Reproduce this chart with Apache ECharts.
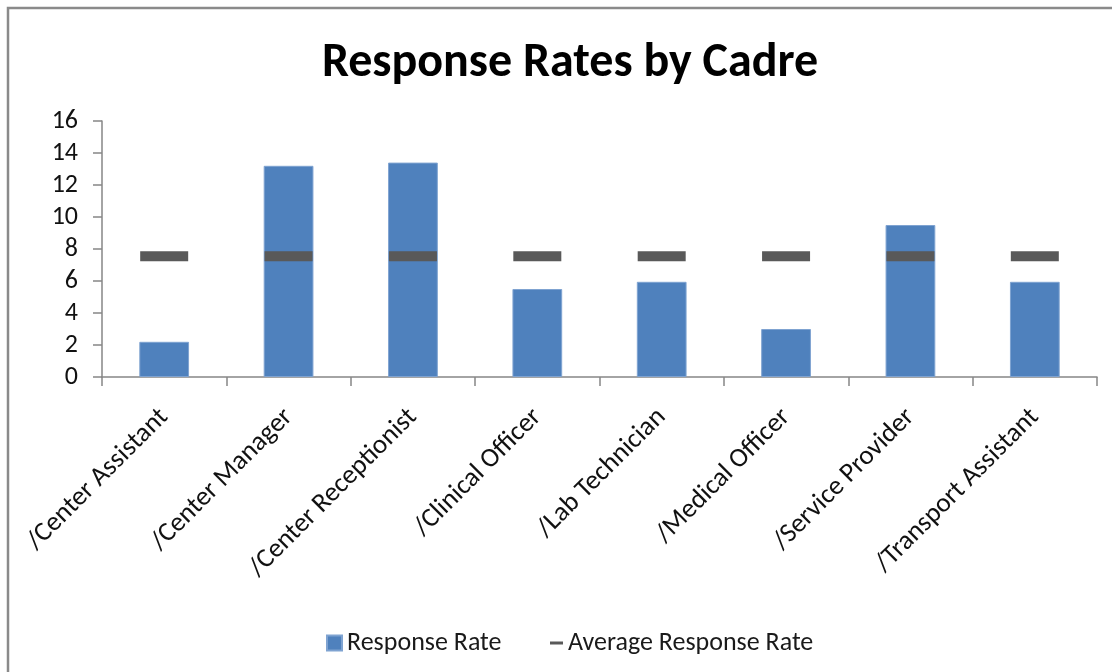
<!DOCTYPE html>
<html>
<head>
<meta charset="utf-8">
<script src="https://cdn.jsdelivr.net/npm/echarts@6/dist/echarts.min.js"></script>
<style>
html,body{margin:0;padding:0;background:#fff;}
#chart{width:1112px;height:672px;}
</style>
</head>
<body>
<div id="chart"></div>
<script>
const categories = ['/Center Assistant','/Center Manager','/Center Receptionist','/Clinical Officer','/Lab Technician','/Medical Officer','/Service Provider','/Transport Assistant'];
const responseRate = [2.2, 13.2, 13.4, 5.5, 5.95, 3.0, 9.5, 5.95];
const averageRate = [7.55, 7.55, 7.55, 7.55, 7.55, 7.55, 7.55, 7.55];
const yTicks = [0, 2, 4, 6, 8, 10, 12, 14, 16];

const FONT = 'Carlito, Lato, sans-serif';
const chart = echarts.init(document.getElementById('chart'));
chart.setOption({
  backgroundColor: '#fff',
  animation: false,
  title: {
    text: 'Response Rates by Cadre',
    left: 565, top: 35, textAlign: 'center',
    textStyle: {fontFamily: FONT, fontWeight: 'bold', fontSize: 48, color: '#000'}
  },
  graphic: [{
    type: 'rect', shape: {x: 8, y: 8, width: 1200, height: 800},
    style: {fill: 'none', stroke: '#8a8a8a', lineWidth: 2.5}, silent: true
  }],
  legend: [{
    data: ['Response Rate'], left: 321, top: 625, icon: 'rect',
    itemWidth: 15, itemHeight: 15,
    textStyle: {fontFamily: FONT, fontSize: 26, color: '#1a1a1a'}
  }, {
    data: ['Average Response Rate'], left: 545, top: 625, icon: 'rect',
    itemWidth: 13, itemHeight: 3,
    textStyle: {fontFamily: FONT, fontSize: 26, color: '#1a1a1a'}
  }],
  grid: {left: 102, right: 15, top: 121, bottom: 295, containLabel: false},
  xAxis: {
    type: 'category', data: categories, boundaryGap: true,
    axisLine: {lineStyle: {color: '#868686', width: 1.5}},
    axisTick: {show: true, length: 9, lineStyle: {color: '#868686', width: 1.5}},
    axisLabel: {rotate: 45, margin: 36, fontFamily: FONT, fontSize: 27, color: '#111', interval: 0}
  },
  yAxis: {
    type: 'value', min: yTicks[0], max: yTicks[yTicks.length - 1], interval: 2,
    splitLine: {show: false},
    axisLine: {show: true, lineStyle: {color: '#868686', width: 1.5}},
    axisTick: {show: true, length: 9, lineStyle: {color: '#868686', width: 1.5}},
    axisLabel: {margin: 24, fontFamily: FONT, fontSize: 26, color: '#111'}
  },
  series: [{
    name: 'Response Rate', type: 'bar', data: responseRate, barWidth: '40%',
    itemStyle: {color: '#4F81BD', borderColor: '#7fa3d1', borderWidth: 1}, z: 2
  }, {
    name: 'Average Response Rate', type: 'scatter', data: averageRate,
    symbol: 'rect', symbolSize: [48, 10],
    itemStyle: {color: '#595959', opacity: 1}, z: 3
  }]
});
</script>
</body>
</html>
